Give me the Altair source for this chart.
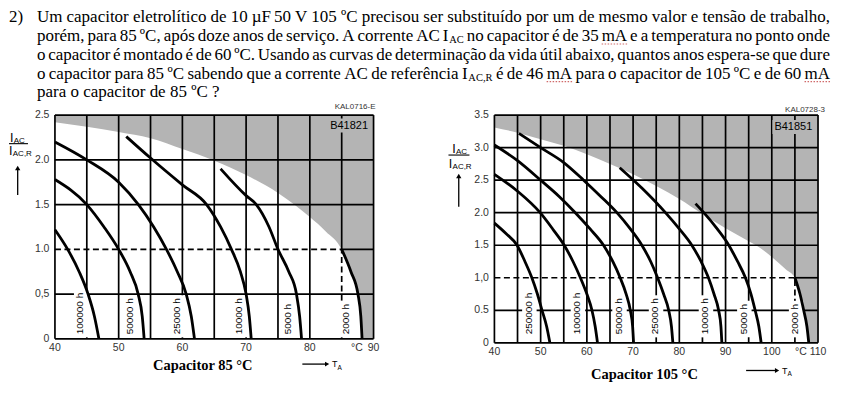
import altair as alt
import pandas as pd

# ---------------- question text ----------------
ITEM_NUMBER = "2)"
PARA_LINES = [
    "Um capacitor eletrolítico de 10 µF 50 V 105 ºC precisou ser substituído por um de mesmo valor e tensão de trabalho,",
    "porém, para 85 ºC, após doze anos de serviço. A corrente AC I_AC no capacitor é de 35 mA e a temperatura no ponto onde",
    "o capacitor é montado é de 60 ºC. Usando as curvas de determinação da vida útil abaixo, quantos anos espera-se que dure",
    "o capacitor para 85 ºC sabendo que a corrente AC de referência I_AC,R é de 46 mA para o capacitor de 105 ºC e de 60 mA",
    "para o capacitor de 85 ºC ?",
]
SPELL_MARKED = ["mA"]

# ---------------- chart 1 : capacitor 85 C ----------------
C85_X_TICKS = [40, 50, 60, 70, 80, 87.4, 90]
C85_X_LABELS = ["40", "50", "60", "70", "80", "°C", "90"]
C85_Y_TICKS = [0, 0.5, 1.0, 1.5, 2.0, 2.5]
C85_Y_LABELS = ["0", "0,5", "1.0", "1.5", "2.0", "2.5"]
C85_GRID_X = [40, 45, 50, 55, 60, 65, 70, 75, 80, 85, 90]
C85_GRID_Y = [0, 0.5, 1.0, 1.5, 2.0, 2.5]

C85_LIMIT_T = [40, 45, 50, 55, 60, 65, 70, 75, 80, 82.5, 85, 86.45, 87.55, 88.0, 88.2, 90]
C85_LIMIT_V = [2.42, 2.37, 2.31, 2.24, 2.12, 1.99, 1.83, 1.63, 1.36, 1.2, 1.0, 0.75, 0.5, 0.25, 0.0, 0.0]

C85_100K_T = [40, 42.0, 43.8, 45.2, 46.2, 46.9]
C85_100K_V = [1.22, 1.0, 0.75, 0.5, 0.25, 0.0]
C85_50K_T = [40, 45, 47.7, 50, 51.8, 53.06, 53.7, 54.0]
C85_50K_V = [1.78, 1.5, 1.25, 1.0, 0.75, 0.5, 0.25, 0.0]
C85_25K_T = [40, 45, 50, 53.1, 55.5, 57.5, 59.2, 60.6, 61.4, 61.9]
C85_25K_V = [2.2, 2.0, 1.75, 1.5, 1.25, 1.0, 0.75, 0.5, 0.25, 0.0]
C85_10K_T = [51.2, 55, 60, 63.8, 66.0, 67.7, 69.1, 70.0, 70.5, 70.8]
C85_10K_V = [2.26, 2.02, 1.72, 1.5, 1.25, 1.0, 0.75, 0.5, 0.25, 0.0]
C85_5K_T = [66.0, 70, 71.6, 73.6, 75.0, 76.7, 77.9, 78.4, 78.7]
C85_5K_V = [1.9, 1.6, 1.5, 1.25, 1.0, 0.75, 0.5, 0.25, 0.0]
C85_2K_T = [85, 86.45, 87.55, 88.0, 88.2]
C85_2K_V = [1.0, 0.75, 0.5, 0.25, 0.0]

C85_LABELS = ["100000 h", "50000 h", "25000 h", "10000 h", "5000 h", "2000 h"]
C85_LABEL_T = [44.0, 51.75, 59.1, 68.9, 76.6, 85.7]

# ---------------- chart 2 : capacitor 105 C ----------------
C105_X_TICKS = [40, 50, 60, 70, 80, 90, 100, 106.3, 110]
C105_X_LABELS = ["40", "50", "60", "70", "80", "90", "100", "°C", "110"]
C105_Y_TICKS = [0, 0.5, 1.0, 1.5, 2.0, 2.5, 3.0, 3.5]
C105_Y_LABELS = ["0", "0.5", "1,0", "1.5", "2.0", "2.5", "3.0", "3.5"]
C105_GRID_X = [40, 45, 50, 55, 60, 65, 70, 75, 80, 85, 90, 95, 100, 105, 110]
C105_GRID_Y = [0, 0.5, 1.0, 1.5, 2.0, 2.5, 3.0, 3.5]

C105_LIMIT_T = [40, 45, 50, 55, 60, 65, 70, 75, 80, 85, 90, 95, 97, 100, 103, 105, 106.1, 106.9, 107.6, 108.0, 110]
C105_LIMIT_V = [3.31, 3.23, 3.13, 3.03, 2.90, 2.75, 2.59, 2.41, 2.21, 1.98, 1.76, 1.56, 1.48, 1.32, 1.13, 1.0, 0.75, 0.5, 0.25, 0.0, 0.0]

C105_250K_T = [40, 42.5, 44.9, 46.6, 48.1, 49.3, 50.3, 51.3, 52.0]
C105_250K_V = [1.84, 1.68, 1.5, 1.25, 1.0, 0.75, 0.5, 0.25, 0.0]
C105_100K_T = [40, 45, 49.9, 52.6, 55.1, 57.0, 58.6, 60.0, 61.1, 61.8, 62.3]
C105_100K_V = [2.59, 2.33, 2.0, 1.75, 1.5, 1.25, 1.0, 0.75, 0.5, 0.25, 0.0]
C105_50K_T = [40, 45, 50, 54, 57.5, 60.7, 63.6, 65.6, 67.2, 68.5, 69.4, 69.9, 70.1]
C105_50K_V = [3.04, 2.8, 2.5, 2.25, 2.0, 1.75, 1.5, 1.25, 1.0, 0.75, 0.5, 0.25, 0.0]
C105_25K_T = [45.3, 50, 55, 59.3, 63, 66.5, 69.4, 71.9, 73.8, 75.3, 76.6, 77.7, 78.3, 78.6]
C105_25K_V = [3.22, 3.0, 2.77, 2.5, 2.25, 2.0, 1.75, 1.5, 1.25, 1.0, 0.75, 0.5, 0.25, 0.0]
C105_10K_T = [67.1, 72, 77, 80, 82.7, 84.7, 86.3, 87.5, 88.5, 89.0, 89.2]
C105_10K_V = [2.69, 2.37, 2.0, 1.75, 1.5, 1.25, 1.0, 0.75, 0.5, 0.25, 0.0]
C105_5K_T = [83.5, 85.3, 88.2, 90.7, 92.6, 94.3, 95.5, 96.4, 97.2, 97.7]
C105_5K_V = [2.14, 2.0, 1.75, 1.5, 1.25, 1.0, 0.75, 0.5, 0.25, 0.0]
C105_2K_T = [105, 106.1, 106.9, 107.6, 108.0]
C105_2K_V = [1.0, 0.75, 0.5, 0.25, 0.0]

C105_LABELS = ["250000 h", "100000 h", "50000 h", "25000 h", "10000 h", "5000 h", "2000 h"]
C105_LABEL_T = [47.4, 57.9, 66.9, 74.8, 85.6, 93.9, 105.1]

# ---------------- styling / layout ----------------
GRAY = "#b4b4b4"
TICK_COLOR = "#333333"
SANS = "Liberation Sans"
SERIF = "Liberation Serif"
GRID_W = 1.7
CURVE_W = 2.8
DASH = [6, 3.5]

PARA_SIZE = 17
SUB_SIZE = 10.5
SUB_DROP = 2.3
PARA_LEFT = 36
PARA_RIGHT = 830
PARA_BASE = [22, 40.8, 59.6, 78.4, 97.2]
NUM_X = 8

TIMES_W = {' ': 250, ',': 250, '.': 250, '?': 444, ')': 333, '(': 333, '-': 333,
           'A': 722, 'C': 667, 'F': 556, 'I': 333, 'R': 667, 'U': 722, 'V': 722,
           'a': 444, 'b': 500, 'c': 444, 'd': 500, 'e': 444, 'f': 333, 'g': 500, 'h': 500,
           'i': 278, 'j': 278, 'k': 500, 'l': 278, 'm': 778, 'n': 500, 'o': 500, 'p': 500,
           'q': 500, 'r': 333, 's': 389, 't': 278, 'u': 500, 'v': 500, 'w': 722, 'x': 500,
           'y': 500, 'z': 444, 'º': 310, '°': 400, 'µ': 500, 'é': 444, 'í': 278, 'ã': 444,
           'ç': 444, 'ê': 444, 'ó': 500, 'ú': 500}


def tw(s, size):
    return sum(TIMES_W.get(c, 500) for c in s) * size / 1000.0


main_rows = [dict(x=NUM_X, y=PARA_BASE[0], t=ITEM_NUMBER)]
sub_rows = []
wavy_rows = []
for i, line in enumerate(PARA_LINES):
    base = PARA_BASE[i]
    pieces = []
    for w in line.split(" "):
        if "_" in w:
            a, b = w.split("_", 1)
            pieces.append([(a, False), (b, True)])
        else:
            pieces.append([(w, False)])
    widths = [sum(tw(t, SUB_SIZE if sub else PARA_SIZE) + (0.8 if sub else 0) for t, sub in p) for p in pieces]
    if i < len(PARA_LINES) - 1:
        gap = (PARA_RIGHT - PARA_LEFT - sum(widths)) / (len(pieces) - 1)
    else:
        gap = tw(" ", PARA_SIZE)
    x = PARA_LEFT
    for p, wd in zip(pieces, widths):
        xx = x
        for t, sub in p:
            if sub:
                xx += 0.8
                sub_rows.append(dict(x=xx, y=base + SUB_DROP, t=t))
                xx += tw(t, SUB_SIZE)
            else:
                main_rows.append(dict(x=xx, y=base, t=t))
                if t in SPELL_MARKED:
                    wavy_rows.append(dict(x=xx, x2=xx + tw(t, PARA_SIZE), y=base + 3))
                xx += tw(t, PARA_SIZE)
        x += wd + gap

PLOT_LEFT = 54
PLOT_TOP = 115
TEXT_W = 780
TEXT_H = 20

xs = alt.Scale(domain=[PLOT_LEFT, PLOT_LEFT + TEXT_W], nice=False, zero=False)
ys = alt.Scale(domain=[PLOT_TOP - TEXT_H, PLOT_TOP], reverse=True, nice=False, zero=False)

anchor = alt.Chart(pd.DataFrame({"x": [8], "x2": [9], "y": [8], "y2": [9]})).mark_rect(
    opacity=0
).encode(x=alt.X("x:Q", scale=xs, axis=None), x2="x2:Q",
         y=alt.Y("y:Q", scale=ys, axis=None), y2="y2:Q")
para_main = alt.Chart(pd.DataFrame(main_rows)).mark_text(
    align="left", baseline="alphabetic", font=SERIF, fontSize=PARA_SIZE, color="black"
).encode(x=alt.X("x:Q", axis=None), y=alt.Y("y:Q", axis=None), text="t:N")
para_sub = alt.Chart(pd.DataFrame(sub_rows)).mark_text(
    align="left", baseline="alphabetic", font=SERIF, fontSize=SUB_SIZE, color="black"
).encode(x=alt.X("x:Q", axis=None), y=alt.Y("y:Q", axis=None), text="t:N")
wavy = alt.Chart(pd.DataFrame(wavy_rows)).mark_rule(
    color="#d06a6a", strokeWidth=1.2, strokeDash=[1.5, 1.5]
).encode(x=alt.X("x:Q", axis=None), x2="x2:Q", y=alt.Y("y:Q", axis=None))
para_chart = alt.layer(anchor, para_main, para_sub, wavy).properties(width=TEXT_W, height=TEXT_H)


# ---------------- helpers ----------------
def one():
    return alt.Chart(pd.DataFrame({"k": [0]}))


def txt(text, x, y, size, font=SANS, weight="normal", align="left", baseline="alphabetic", color="black"):
    return one().mark_text(text=text, fontSize=size, font=font, fontWeight=weight, align=align,
                           baseline=baseline, color=color).encode(x=alt.value(x), y=alt.value(y))


def seg(x1, y1, x2, y2, width=1.2):
    return one().mark_rule(color="black", strokeWidth=width).encode(
        x=alt.value(x1), x2=alt.value(x2), y=alt.value(y1), y2=alt.value(y2))


def box(x1, y1, x2, y2, color):
    return one().mark_rect(color=color).encode(
        x=alt.value(x1), x2=alt.value(x2), y=alt.value(y1), y2=alt.value(y2))


def tri(x, y, shape, size):
    return one().mark_point(shape=shape, filled=True, size=size, color="black", opacity=1).encode(
        x=alt.value(x), y=alt.value(y))


def panel(w, h, xdom, ydom, xticks, xlabels, yticks, ylabels, gx, gy, limT, limV, curves,
          labels, labelT, ref_T, label_bottom, model, kal, caption, ann):
    px_per_T = w / (xdom[1] - xdom[0])
    px_per_v = h / (ydom[1] - ydom[0])
    xsc = alt.Scale(domain=xdom, nice=False, zero=False)
    ysc = alt.Scale(domain=ydom, nice=False, zero=False)

    gray = alt.Chart(pd.DataFrame({"T": limT, "v": limV, "top": [ydom[1]] * len(limT)})).mark_area(
        color=GRAY, interpolate="monotone").encode(
        x=alt.X("T:Q", scale=xsc, axis=None), y=alt.Y("v:Q", scale=ysc, axis=None), y2="top:Q")

    vrows = []
    for t in gx:
        if t == ref_T:
            vrows.append(dict(x=t, y=1.0, y2=ydom[1]))
        else:
            vrows.append(dict(x=t, y=ydom[0], y2=ydom[1]))
    hrows = []
    for v in gy:
        if v == 1.0:
            hrows.append(dict(y=v, x=ref_T, x2=xdom[1]))
        else:
            hrows.append(dict(y=v, x=xdom[0], x2=xdom[1]))
    vgrid = alt.Chart(pd.DataFrame(vrows)).mark_rule(color="black", strokeWidth=GRID_W).encode(
        x="x:Q", y="y:Q", y2="y2:Q")
    hgrid = alt.Chart(pd.DataFrame(hrows)).mark_rule(color="black", strokeWidth=GRID_W).encode(
        y="y:Q", x="x:Q", x2="x2:Q")
    dash_h = alt.Chart(pd.DataFrame({"y": [1.0], "x": [xdom[0]], "x2": [ref_T]})).mark_rule(
        color="black", strokeWidth=GRID_W, strokeDash=DASH).encode(y="y:Q", x="x:Q", x2="x2:Q")
    dash_v = alt.Chart(pd.DataFrame({"x": [ref_T], "y": [0.0], "y2": [1.0]})).mark_rule(
        color="black", strokeWidth=GRID_W, strokeDash=DASH).encode(x="x:Q", y="y:Q", y2="y2:Q")

    brow = []
    for lab, t in zip(labels, labelT):
        length = (sum(556 if c.isdigit() or c == 'h' else 278 for c in lab) * 10 / 1000.0)
        brow.append(dict(x=t - 6.5 / px_per_T, x2=t + 8.0 / px_per_T,
                         y=label_bottom - 3 / px_per_v, y2=label_bottom + (length + 3) / px_per_v))
    boxes = alt.Chart(pd.DataFrame(brow)).mark_rect(color="white").encode(
        x="x:Q", x2="x2:Q", y="y:Q", y2="y2:Q")

    crow = []
    for name, (ts, vs) in curves.items():
        for t, v in zip(ts, vs):
            crow.append(dict(curve=name, T=t, v=v))
    lines = alt.Chart(pd.DataFrame(crow)).mark_line(
        color="black", strokeWidth=CURVE_W, interpolate="monotone").encode(
        x="T:Q", y="v:Q", detail="curve:N")

    ltext = alt.Chart(pd.DataFrame({"T": labelT, "v": [label_bottom] * len(labels), "lab": labels})).mark_text(
        angle=270, align="left", baseline="middle", fontSize=10, font=SANS, color="black").encode(
        x="T:Q", y="v:Q", text="lab:N")

    ylab = alt.Chart(pd.DataFrame({"v": yticks, "lab": ylabels})).mark_text(
        align="right", baseline="middle", fontSize=10.5, font=SANS, color=TICK_COLOR).encode(
        x=alt.value(-5.5), y="v:Q", text="lab:N")
    xlab = alt.Chart(pd.DataFrame({"T": xticks, "lab": xlabels})).mark_text(
        align="center", baseline="middle", fontSize=10.5, font=SANS, color=TICK_COLOR).encode(
        x="T:Q", y=alt.value(h + 9), text="lab:N")

    mw = (667 + 5 * 556) / 1000.0 * 11
    extra = [
        box(model[1] - mw / 2 - 2, model[2] - 7, model[1] + mw / 2 + 2, model[2] + 7, GRAY),
        txt(kal[0], kal[1], kal[2], 8, color=TICK_COLOR, align="right", baseline="middle"),
        txt(model[0], model[1], model[2], 11, align="center", baseline="middle"),
        txt(caption[0], caption[1], caption[2], 14.5, font=SERIF, weight="bold", align="center", baseline="middle"),
    ]
    a = ann
    extra += [
        txt("I", a["i1x"], a["i1y"], 12.5),
        txt("AC", a["i1x"] + 3.8, a["i1y"] + 1, 8),
        seg(a["fx1"], a["fy"], a["fx2"], a["fy"], 1.1),
        txt("I", a["i2x"], a["i2y"], 12.5),
        txt("AC,R", a["i2x"] + 3.8, a["i2y"] + 1, 8),
        seg(a["ax"], a["ay1"] + 5, a["ax"], a["ay2"], 1.3),
        tri(a["ax"], a["ay1"] + 3, "triangle-up", 28),
        seg(a["tx1"], a["ty"], a["tx2"], a["ty"], 1.3),
        tri(a["tx2"] + 2, a["ty"], "triangle-right", 24),
        txt("T", a["tx2"] + 7, a["ty"] + 3.2, 9),
        txt("A", a["tx2"] + 12.4, a["ty"] + 5.5, 6.5),
    ]
    return alt.layer(gray, vgrid, hgrid, dash_h, dash_v, boxes, lines, ltext, ylab, xlab, *extra).properties(
        width=w, height=h)


left = panel(
    319, 224, [40, 90], [0, 2.5], C85_X_TICKS, C85_X_LABELS, C85_Y_TICKS, C85_Y_LABELS,
    C85_GRID_X, C85_GRID_Y, C85_LIMIT_T, C85_LIMIT_V,
    {"100000 h": (C85_100K_T, C85_100K_V), "50000 h": (C85_50K_T, C85_50K_V),
     "25000 h": (C85_25K_T, C85_25K_V), "10000 h": (C85_10K_T, C85_10K_V),
     "5000 h": (C85_5K_T, C85_5K_V), "2000 h": (C85_2K_T, C85_2K_V)},
    C85_LABELS, C85_LABEL_T, 85, 0.05,
    ("B41821", 294.5, 10.5), ("KAL0716-E", 321, -8.3), ("Capacitor 85 °C", 148, 251.7),
    dict(i1x=-45, i1y=26.7, fx1=-46, fx2=-27, fy=28.6, i2x=-46, i2y=40.3,
         ax=-37.3, ay1=50, ay2=80, tx1=247.7, tx2=270.5, ty=249.3),
)

right = panel(
    324, 228, [40, 110], [0, 3.5], C105_X_TICKS, C105_X_LABELS, C105_Y_TICKS, C105_Y_LABELS,
    C105_GRID_X, C105_GRID_Y, C105_LIMIT_T, C105_LIMIT_V,
    {"250000 h": (C105_250K_T, C105_250K_V), "100000 h": (C105_100K_T, C105_100K_V),
     "50000 h": (C105_50K_T, C105_50K_V), "25000 h": (C105_25K_T, C105_25K_V),
     "10000 h": (C105_10K_T, C105_10K_V), "5000 h": (C105_5K_T, C105_5K_V),
     "2000 h": (C105_2K_T, C105_2K_V)},
    C105_LABELS, C105_LABEL_T, 105, 0.13,
    ("B41851", 299.3, 12), ("KAL0728-3", 331, -5), ("Capacitor 105 °C", 150.2, 260),
    dict(i1x=-42.3, i1y=38, fx1=-46, fx2=-25, fy=40, i2x=-45.7, i2y=53,
         ax=-35.7, ay1=58, ay2=91.7, tx1=252, tx2=281, ty=255.7),
)

row = alt.hconcat(left, right, spacing=121, bounds="flush")
chart = alt.vconcat(para_chart, row, spacing=0, bounds="flush").properties(
    padding=0, background="white").configure_view(stroke=None)

chart.save("out.html", embed_options={"renderer": "svg", "actions": False})
